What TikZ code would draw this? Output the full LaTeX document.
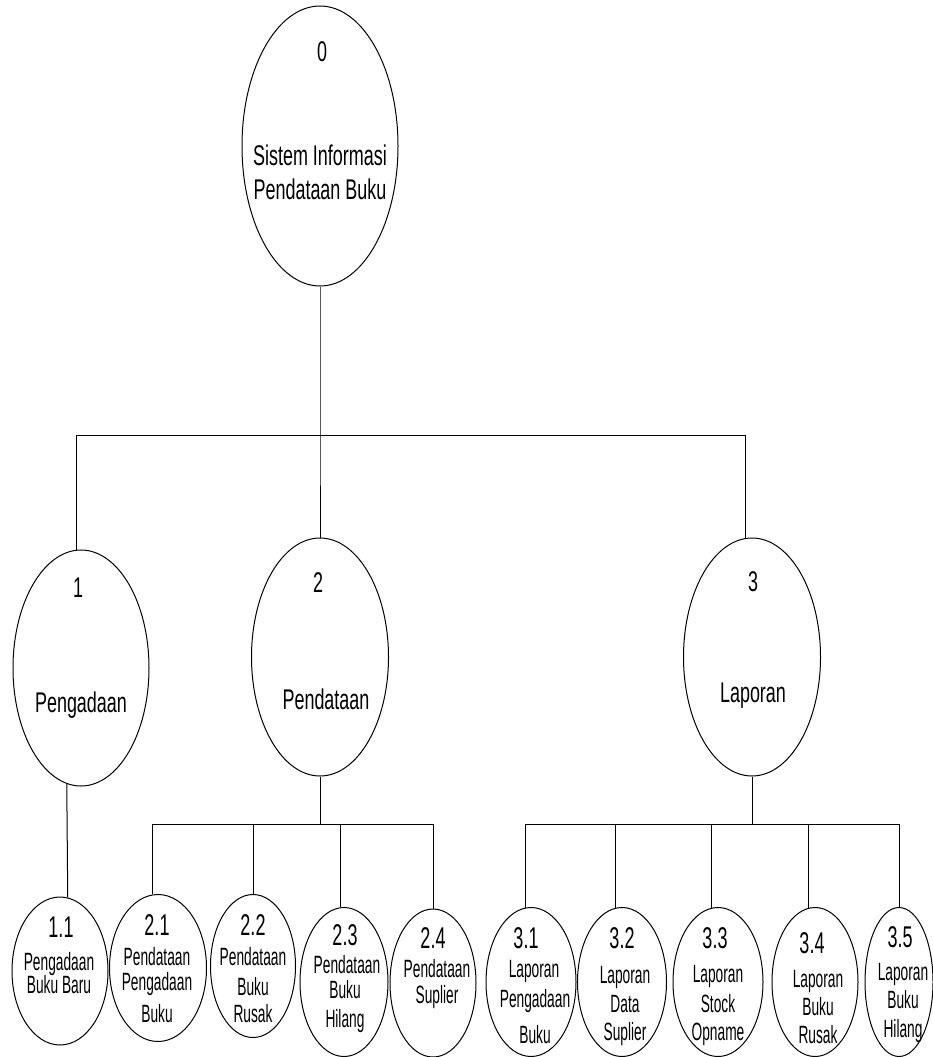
\documentclass[tikz,border=0pt]{standalone}
\usepackage{fontspec}
\setmainfont{Liberation Sans}
\newfontfamily\topfont{Liberation Sans}[FakeStretch=0.63]
\newfontfamily\numfont{Liberation Sans}[FakeStretch=0.6]
\newfontfamily\botfont{Liberation Sans}[FakeStretch=0.55]
\usetikzlibrary{shapes.geometric}
\begin{document}
\begin{tikzpicture}[x=1pt,y=-1pt,
  proc/.style={draw, ellipse, inner sep=0pt, line width=1pt},
  toplbl/.style={anchor=base, inner sep=0pt, font=\topfont\fontsize{28.5}{30}\selectfont},
  botnum/.style={anchor=base, inner sep=0pt, font=\numfont\fontsize{30}{32}\selectfont},
  botlbl/.style={anchor=base, inner sep=0pt, font=\botfont\fontsize{25}{27}\selectfont},
  link/.style={line width=1pt}]
\useasboundingbox (0,0) rectangle (932,1057);

% level 0
\node[proc, minimum width=156pt, minimum height=280pt] (n0) at (320,146) {};
\node[toplbl] (t0n) at (322,62) {0};
\node[toplbl] (t0a) at (320,165) {Sistem Informasi};
\node[toplbl] (t0b) at (320,199) {Pendataan Buku};

% level 1
\node[proc, minimum width=136pt, minimum height=236pt] (n1) at (81,668) {};
\node[toplbl] (t1n) at (78,597) {1};
\node[toplbl] (t1a) at (81,712) {Pengadaan};

\node[proc, minimum width=137pt, minimum height=238pt] (n2) at (320,657) {};
\node[toplbl] (t2n) at (318,592) {2};
\node[toplbl] (t2a) at (326,709) {Pendataan};

\node[proc, minimum width=137pt, minimum height=238pt] (n3) at (752,657) {};
\node[toplbl] (t3n) at (753,591) {3};
\node[toplbl] (t3a) at (753,702) {Laporan};

% level 2
\node[proc, minimum width=96pt, minimum height=148pt] (n11) at (60,971) {};
\node[botnum] (t11n) at (61,937) {1.1};
\node[botlbl] (t11a) at (59,970) {Pengadaan};
\node[botlbl] (t11b) at (59,993) {Buku Baru};

\node[proc, minimum width=97pt, minimum height=147pt] (n21) at (158,968) {};
\node[botnum] (t21n) at (157,935) {2.1};
\node[botlbl] (t21a) at (157,965) {Pendataan};
\node[botlbl] (t21b) at (157,990) {Pengadaan};
\node[botlbl] (t21c) at (157,1022) {Buku};

\node[proc, minimum width=85pt, minimum height=143pt] (n22) at (253,966) {};
\node[botnum] (t22n) at (253,935) {2.2};
\node[botlbl] (t22a) at (253,965) {Pendataan};
\node[botlbl] (t22b) at (253,995) {Buku};
\node[botlbl] (t22c) at (253,1022) {Rusak};

\node[proc, minimum width=88pt, minimum height=149pt] (n23) at (344,982) {};
\node[botnum] (t23n) at (345,945) {2.3};
\node[botlbl] (t23a) at (347,973) {Pendataan};
\node[botlbl] (t23b) at (345,998) {Buku};
\node[botlbl] (t23c) at (345,1027) {Hilang};

\node[proc, minimum width=86pt, minimum height=148pt] (n24) at (433,983) {};
\node[botnum] (t24n) at (433,948) {2.4};
\node[botlbl] (t24a) at (437,977) {Pendataan};
\node[botlbl] (t24b) at (437,1003) {Suplier};

\node[proc, minimum width=90pt, minimum height=149pt] (n31) at (531,982) {};
\node[botnum] (t31n) at (526,948) {3.1};
\node[botlbl] (t31a) at (534,977) {Laporan};
\node[botlbl] (t31b) at (535,1007) {Pengadaan};
\node[botlbl] (t31c) at (535,1043) {Buku};

\node[proc, minimum width=89pt, minimum height=149pt] (n32) at (622,982) {};
\node[botnum] (t32n) at (622,948) {3.2};
\node[botlbl] (t32a) at (625,983) {Laporan};
\node[botlbl] (t32b) at (625,1012) {Data};
\node[botlbl] (t32c) at (625,1040) {Suplier};

\node[proc, minimum width=90pt, minimum height=149pt] (n33) at (718,982) {};
\node[botnum] (t33n) at (715,948) {3.3};
\node[botlbl] (t33a) at (718,982) {Laporan};
\node[botlbl] (t33b) at (718,1012) {Stock};
\node[botlbl] (t33c) at (718,1040) {Opname};

\node[proc, minimum width=86pt, minimum height=149pt] (n34) at (815,982) {};
\node[botnum] (t34n) at (812,953) {3.4};
\node[botlbl] (t34a) at (818,987) {Laporan};
\node[botlbl] (t34b) at (818,1015) {Buku};
\node[botlbl] (t34c) at (818,1043) {Rusak};

\node[proc, minimum width=68pt, minimum height=149pt] (n35) at (899,982) {};
\node[botnum] (t35n) at (900,947) {3.5};
\node[botlbl] (t35a) at (903,980) {Laporan};
\node[botlbl] (t35b) at (903,1008) {Buku};
\node[botlbl] (t35c) at (903,1037) {Hilang};

% connectors
\coordinate (bar0) at (320,435);
\coordinate (bar2) at (321,824);
\coordinate (bar3) at (753,824);

\draw[link] (n0.south) -- (n0.south |- bar0) -- (n2.north);
\draw[link] (n1.92) -- (n1.92 |- bar0) -- (n3.93 |- bar0) -- (n3.93);

\draw[link] (n1.-97) -- (n11.84);

\draw[link] (n2.south) -- (n2.south |- bar2);
\draw[link] (n21.94) -- (n21.94 |- bar2) -- (n24.north |- bar2) -- (n24.north);
\draw[link] (n22.north) -- (n22.north |- bar2);
\draw[link] (n23.93) -- (n23.93 |- bar2);

\draw[link] (n3.south) -- (n3.south |- bar3);
\draw[link] (n31.94) -- (n31.94 |- bar3) -- (n35.north |- bar3) -- (n35.north);
\draw[link] (n32.95) -- (n32.95 |- bar3);
\draw[link] (n33.95) -- (n33.95 |- bar3);
\draw[link] (n34.95) -- (n34.95 |- bar3);
\end{tikzpicture}
\end{document}
